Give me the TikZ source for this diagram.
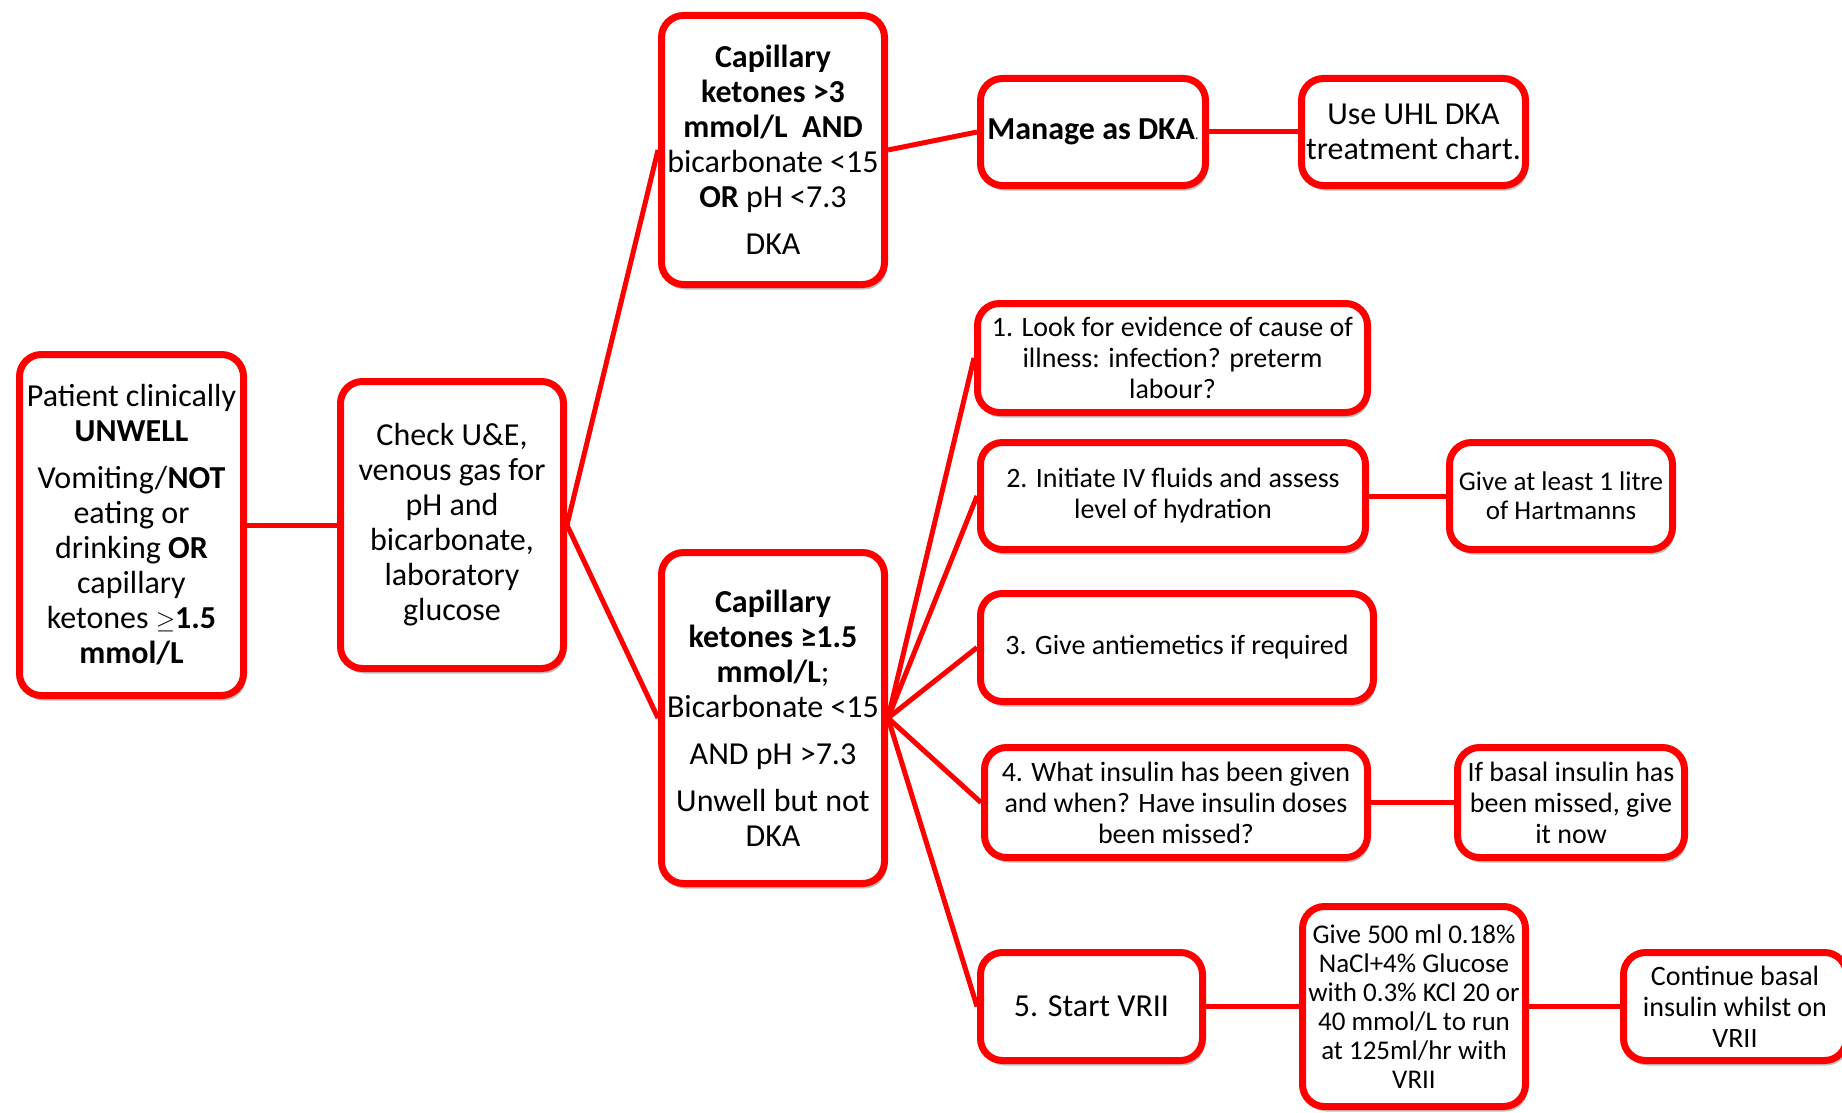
\documentclass[tikz,border=0pt]{standalone}
\usepackage{fontspec}
\setmainfont{Carlito}
\usetikzlibrary{shadows}
\begin{document}
\begin{tikzpicture}[x=1pt,y=-1pt,
	box/.style={draw=red, line width=7pt, rounded corners=22pt, fill=white, align=center, inner sep=4pt,
		drop shadow={shadow xshift=2pt, shadow yshift=-5pt, opacity=0.25, fill=black}},
	big/.style={font=\fontsize{32}{35}\selectfont},
	mid/.style={font=\fontsize{28}{31}\selectfont},
	small/.style={font=\fontsize{28}{31}\selectfont},
	tight/.style={font=\fontsize{27}{29}\selectfont},
	link/.style={draw=red, line width=5pt}]
	\useasboundingbox (0,0) rectangle (1842,1113);
	
	\node[box, big, minimum width=224, minimum height=341] (patient) at (131.5,525)
		{Patient clinically\\ \textbf{UNWELL}\\[12pt] Vomiting/\textbf{NOT}\\ eating or\\ drinking \textbf{OR}\\ capillary\\ ketones $\geq$\textbf{1.5}\\ \textbf{mmol/L}};
	\node[box, big, minimum width=223, minimum height=287] (check) at (452,525)
		{Check U\&E,\\ venous gas for\\ pH and\\ bicarbonate,\\ laboratory\\ glucose};
	\node[box, big, minimum width=223, minimum height=269] (dka) at (773,150)
		{\textbf{Capillary}\\ \textbf{ketones >3}\\ \textbf{mmol/L\ \ AND}\\ bicarbonate <15\\ \textbf{OR} pH <7.3\\[12pt] DKA};
	\node[box, big, minimum width=223, minimum height=331] (notdka) at (773,718)
		{\textbf{Capillary}\\ \textbf{ketones ≥1.5}\\ \textbf{mmol/L};\\ Bicarbonate <15\\[12pt] AND pH >7.3\\[12pt] Unwell but not\\ DKA};
	\node[box, big, minimum width=225, minimum height=107] (manage) at (1093,132)
		{\textbf{Manage as DKA}{\fontsize{14}{14}\selectfont .}};
	\node[box, big, minimum width=224, minimum height=107] (chart) at (1413.5,132)
		{Use UHL DKA\\ treatment chart.};
	\node[box, small, minimum width=390, minimum height=109] (look) at (1172.5,358)
		{1. Look for evidence of cause of\\ illness: infection? preterm\\ labour?};
	\node[box, small, minimum width=385, minimum height=107] (fluids) at (1173,496)
		{2. Initiate IV fluids and assess\\ level of hydration};
	\node[box, tight, minimum width=223, minimum height=107] (litre) at (1561,496)
		{Give at least 1 litre\\ of Hartmanns};
	\node[box, small, minimum width=393, minimum height=108] (emetic) at (1177,647.5)
		{3. Give antiemetics if required};
	\node[box, small, minimum width=383, minimum height=110] (insulin) at (1176,802.5)
		{4. What insulin has been given\\ and when? Have insulin doses\\ been missed?};
	\node[box, small, minimum width=227, minimum height=110] (basal) at (1571,802.5)
		{If basal insulin has\\ been missed, give\\ it now};
	\node[box, big, minimum width=222, minimum height=108] (vrii) at (1091.5,1006.5)
		{5. Start VRII};
	\node[box, tight, minimum width=223, minimum height=200] (glucose) at (1414,1006.5)
		{Give 500 ml 0.18\%\\ NaCl+4\% Glucose\\ with 0.3\% KCl 20 or\\ 40 mmol/L to run\\ at 125ml/hr with\\ VRII};
	\node[box, mid, minimum width=223, minimum height=108] (whilst) at (1735,1006.5)
		{Continue basal\\ insulin whilst on\\ VRII};
	
	\draw[link] (patient.east) -- (check.west);
	\draw[link] (check.east) -- (dka.west);
	\draw[link] (check.east) -- (notdka.west);
	\draw[link] (dka.east) -- (manage.west);
	\draw[link] (manage.east) -- (chart.west);
	\draw[link] (notdka.east) -- (look.west);
	\draw[link] (notdka.east) -- (fluids.west);
	\draw[link] (notdka.east) -- (emetic.west);
	\draw[link] (notdka.east) -- (insulin.west);
	\draw[link] (notdka.east) -- (vrii.west);
	\draw[link] (fluids.east) -- (litre.west);
	\draw[link] (insulin.east) -- (basal.west);
	\draw[link] (vrii.east) -- (glucose.west);
	\draw[link] (glucose.east) -- (whilst.west);
\end{tikzpicture}
\end{document}
